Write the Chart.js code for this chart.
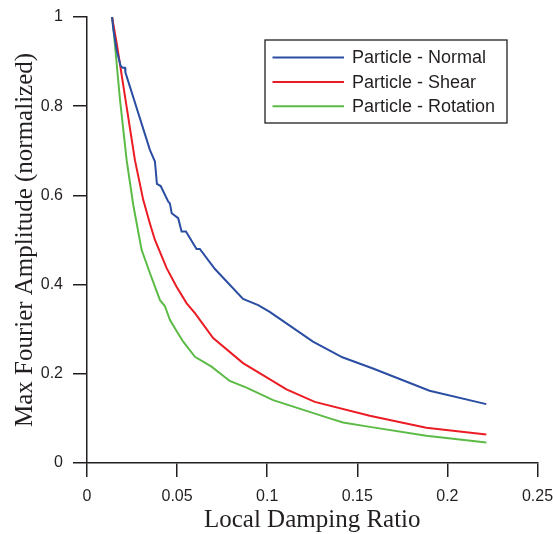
<!DOCTYPE html>
<html>
<head>
<meta charset="utf-8">
<script src="https://cdn.jsdelivr.net/npm/chart.js@4.4.0/dist/chart.umd.min.js"></script>
<style>
html,body{margin:0;padding:0;background:#fff;}
#wrap{width:553px;height:534px;position:relative;}
</style>
</head>
<body>
<div id="wrap"><canvas id="c"></canvas></div>
<script>
// Local damping ratio (x) and normalized max Fourier amplitude (y)
const normalX = [0.0139, 0.0146, 0.0165, 0.0187, 0.0198, 0.0211, 0.0213, 0.0349, 0.0377, 0.0388, 0.0409, 0.0451, 0.0460, 0.0470, 0.0506, 0.0525, 0.0549, 0.0608, 0.0626, 0.0710, 0.0866, 0.0950, 0.1014, 0.1254, 0.1417, 0.1587, 0.1901, 0.2216];
const normalY = [1.000, 0.973, 0.925, 0.890, 0.886, 0.886, 0.876, 0.702, 0.676, 0.626, 0.621, 0.586, 0.582, 0.560, 0.549, 0.519, 0.519, 0.480, 0.480, 0.435, 0.368, 0.354, 0.339, 0.272, 0.237, 0.212, 0.162, 0.132];

const shearX = [0.0139, 0.0165, 0.0266, 0.0312, 0.0349, 0.0377, 0.0442, 0.0497, 0.0553, 0.0599, 0.0700, 0.0866, 0.1107, 0.1264, 0.1569, 0.1883, 0.2216];
const shearY = [1.000, 0.941, 0.679, 0.590, 0.537, 0.500, 0.437, 0.395, 0.358, 0.336, 0.280, 0.224, 0.165, 0.137, 0.106, 0.079, 0.064];

const rotationX = [0.0139, 0.0146, 0.0183, 0.0220, 0.0257, 0.0303, 0.0349, 0.0405, 0.0432, 0.0460, 0.0497, 0.0534, 0.0599, 0.0691, 0.0792, 0.0885, 0.1033, 0.1347, 0.1421, 0.1569, 0.1883, 0.2216];
const rotationY = [1.000, 0.978, 0.815, 0.679, 0.578, 0.478, 0.426, 0.365, 0.352, 0.321, 0.296, 0.272, 0.238, 0.216, 0.184, 0.169, 0.141, 0.100, 0.091, 0.081, 0.061, 0.046];

const seriesNames = ['Particle - Normal', 'Particle - Shear', 'Particle - Rotation'];
const seriesColors = ['#2b4ea2', '#ec1c24', '#5cbb46'];

const xTickStep = 0.05, xMin = 0, xMax = 0.25;
const yTickStep = 0.2, yMin = 0, yMax = 1;

const xTitle = 'Local Damping Ratio';
const yTitle = 'Max Fourier Amplitude (normalized)';

function pts(xs, ys) { return xs.map((x, i) => ({x: x, y: ys[i]})); }
function fmt(v) { return String(Number(Number(v).toFixed(4))); }

const ink = '#231f20';
const sansFont = "'Liberation Sans', Arial, sans-serif";
const serifFont = "'Liberation Serif', 'Times New Roman', serif";

const legendPlugin = {
  id: 'boxLegend',
  afterDraw(chart) {
    const ctx = chart.ctx;
    const a = chart.chartArea;
    const bx = a.left + 178, by = a.top + 23, bw = 242, bh = 83;
    ctx.save();
    ctx.fillStyle = '#fff';
    ctx.fillRect(bx, by, bw, bh);
    ctx.strokeStyle = ink;
    ctx.lineWidth = 1.3;
    ctx.strokeRect(bx, by, bw, bh);
    ctx.font = '18px ' + sansFont;
    ctx.textBaseline = 'middle';
    ctx.textAlign = 'left';
    chart.data.datasets.forEach((ds, i) => {
      const yy = by + 17.5 + i * 24.4;
      ctx.strokeStyle = ds.borderColor;
      ctx.lineWidth = 2;
      ctx.beginPath();
      ctx.moveTo(bx + 7.5, yy);
      ctx.lineTo(bx + 79, yy);
      ctx.stroke();
      ctx.fillStyle = ink;
      ctx.fillText(ds.label, bx + 87, yy + 1);
    });
    ctx.restore();
  }
};

const datasets = [
  {label: seriesNames[0], data: pts(normalX, normalY), borderColor: seriesColors[0]},
  {label: seriesNames[1], data: pts(shearX, shearY), borderColor: seriesColors[1]},
  {label: seriesNames[2], data: pts(rotationX, rotationY), borderColor: seriesColors[2]}
].map(d => Object.assign(d, {borderWidth: 2, pointRadius: 0, tension: 0, fill: false}));

function noPad(s) { s.paddingLeft = 0; s.paddingRight = 0; s.paddingTop = 0; s.paddingBottom = 0; }

new Chart(document.getElementById('c'), {
  type: 'line',
  data: {datasets: datasets},
  plugins: [legendPlugin],
  options: {
    responsive: true,
    maintainAspectRatio: false,
    animation: false,
    layout: {padding: {left: 0, top: 17, right: 15.5, bottom: 0}},
    plugins: {legend: {display: false}, tooltip: {enabled: false}},
    scales: {
      x: {
        type: 'linear',
        min: xMin, max: xMax,
        afterFit(s) { s.height = 71; noPad(s); },
        ticks: {stepSize: xTickStep, padding: 10, color: ink, font: {family: sansFont, size: 16}, maxRotation: 0, callback: fmt},
        grid: {drawOnChartArea: false, drawTicks: true, tickLength: 14, color: ink, lineWidth: 1.5},
        border: {display: true, color: ink, width: 1.5},
        title: {display: true, text: xTitle, color: ink, font: {family: serifFont, size: 25, lineHeight: 1}, padding: {top: 0, bottom: 1.5}}
      },
      y: {
        type: 'linear',
        min: yMin, max: yMax,
        afterFit(s) { s.width = 87; noPad(s); },
        ticks: {stepSize: yTickStep, padding: 10, color: ink, font: {family: sansFont, size: 16}, callback: fmt},
        grid: {drawOnChartArea: false, drawTicks: true, tickLength: 14, color: ink, lineWidth: 1.5},
        border: {display: true, color: ink, width: 1.5},
        title: {display: true, text: yTitle, color: ink, font: {family: serifFont, size: 25, lineHeight: 1}, padding: {top: 12.5, bottom: 0}}
      }
    }
  }
});
</script>
</body>
</html>
